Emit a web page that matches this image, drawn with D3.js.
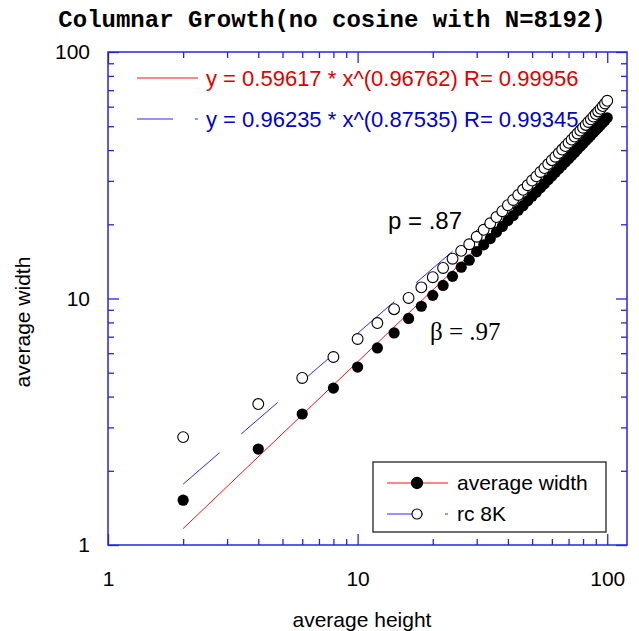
<!DOCTYPE html>
<html>
<head>
<meta charset="utf-8">
<script src="https://cdn.jsdelivr.net/npm/d3@7"></script>
<style>
  body { margin: 0; background: #fff; }
</style>
</head>
<body>
<div id="chart"></div>
<script>
// average height (x) of the sampled columns
const heights = [2, 4, 6, 8, 10, 12, 14, 16, 18, 20, 22, 24, 26, 28, 30, 32, 34, 36, 38, 40,
  42, 44, 46, 48, 50, 52, 54, 56, 58, 60, 62, 64, 66, 68, 70, 72, 74, 76, 78, 80,
  82, 84, 86, 88, 90, 92, 94, 96, 98, 100];
// filled circles
const avgWidth = [1.52, 2.45, 3.40, 4.33, 5.27, 6.3, 7.25, 8.3, 9.3, 10.3, 11.3, 12.3, 13.4, 14.3, 15.5,
  16.5, 17.5, 18.6, 19.6, 20.7, 21.7, 22.8, 23.8, 24.9, 26.0, 27.0, 28.1, 29.2, 30.3, 31.4,
  32.5, 33.6, 34.7, 35.8, 36.9, 38.0, 39.1, 40.3, 41.4, 42.5, 43.7, 44.8, 45.9, 47.1, 48.2,
  49.4, 50.6, 51.8, 52.9, 54.1];
// open circles
const rc8k = [2.74, 3.73, 4.76, 5.79, 6.85, 7.95, 9.05, 10.05, 11.1, 12.2, 13.3, 14.5, 15.6, 16.6, 17.8,
  19.0, 20.2, 21.4, 22.6, 23.9, 25.1, 26.3, 27.6, 28.8, 30.1, 31.3, 32.6, 33.8, 35.1, 36.4,
  37.6, 38.9, 40.2, 41.5, 42.8, 44.1, 45.4, 46.7, 48.0, 49.3, 50.6, 52.0, 53.3, 54.7, 56.0,
  57.4, 58.8, 60.3, 61.8, 63.4];

// power-law fits  y = a * x^b
const fitCoef = [0.59617, 0.96235];
const fitExp = [0.96762, 0.87535];
const fitR = [0.99956, 0.99345];
const fitRange = [2, 100];

const seriesNames = ["average width", "rc 8K"];
const majorTicks = [1, 10, 100];
const minorTicks = [2, 3, 4, 5, 6, 7, 8, 9, 20, 30, 40, 50, 60, 70, 80, 90];

const W = 639, H = 631;
const pL = 108, pR = 627, pT = 52, pB = 545;
const frameColor = "#2424e6";
const redC = "#e00000", blueC = "#0000d0";

const svg = d3.select("#chart").append("svg")
  .attr("width", W)
  .attr("height", H)
  .attr("font-family", "'Liberation Sans', Arial, sans-serif");

const x = d3.scaleLog().domain([1, 120]).range([pL, pR]);
const y = d3.scaleLog().domain([1, 100]).range([pB, pT]);

// title
svg.append("text")
  .attr("x", 332)
  .attr("y", 27)
  .attr("text-anchor", "middle")
  .attr("font-family", "'Liberation Mono', 'Courier New', monospace")
  .attr("font-weight", "bold")
  .attr("font-size", 24)
  .text("Columnar Growth(no cosine with N=8192)");

// ticks, inward on all four sides
function ticks(axisFn, scale, pos, vals, len, labels, pad) {
  const g = svg.append("g")
    .attr("transform", pos)
    .call(axisFn(scale).tickValues(vals).tickSizeInner(-len).tickSizeOuter(0)
      .tickPadding(pad || 0)
      .tickFormat(labels ? d3.format("d") : ""));
  g.select(".domain").remove();
  g.selectAll("line").attr("stroke", frameColor).attr("stroke-width", 1.3);
  g.selectAll("text").attr("font-size", 21).attr("fill", "#000");
  g.attr("font-family", null);
  return g;
}
ticks(d3.axisBottom, x, `translate(0,${pB})`, minorTicks, 6);
ticks(d3.axisBottom, x, `translate(0,${pB})`, majorTicks, 11, true, 26);
ticks(d3.axisTop, x, `translate(0,${pT})`, minorTicks, 6);
ticks(d3.axisTop, x, `translate(0,${pT})`, majorTicks, 11);
ticks(d3.axisLeft, y, `translate(${pL},0)`, minorTicks, 6);
ticks(d3.axisLeft, y, `translate(${pL},0)`, majorTicks, 11, true, 18);
ticks(d3.axisRight, y, `translate(${pR},0)`, minorTicks, 6);
ticks(d3.axisRight, y, `translate(${pR},0)`, majorTicks, 11);

svg.append("rect")
  .attr("x", pL).attr("y", pT)
  .attr("width", pR - pL).attr("height", pB - pT)
  .attr("fill", "none")
  .attr("stroke", frameColor)
  .attr("stroke-width", 1.5);

// axis titles
svg.append("text")
  .attr("x", 362).attr("y", 627)
  .attr("text-anchor", "middle")
  .attr("font-size", 21)
  .text("average height");
svg.append("text")
  .attr("transform", "translate(30,322) rotate(-90)")
  .attr("text-anchor", "middle")
  .attr("font-size", 21)
  .text("average width");

// fit lines
const fitLine = d3.line().x(d => x(d[0])).y(d => y(d[1]));
const fitColors = ["#ff1010", "#2a2aff"];
const fitDash = [null, "48,29"];
fitCoef.forEach((a, i) => {
  const pts = fitRange.map(h => [h, a * Math.pow(h, fitExp[i])]);
  svg.append("path")
    .attr("d", fitLine(pts))
    .attr("fill", "none")
    .attr("stroke", fitColors[i])
    .attr("stroke-width", 1)
    .attr("stroke-dasharray", fitDash[i]);
});

// points
svg.append("g").selectAll("circle")
  .data(heights)
  .join("circle")
  .attr("cx", d => x(d))
  .attr("cy", (d, i) => y(avgWidth[i]))
  .attr("r", 5.6)
  .attr("fill", "#000");

svg.append("g").selectAll("circle")
  .data(heights)
  .join("circle")
  .attr("cx", d => x(d))
  .attr("cy", (d, i) => y(rc8k[i]))
  .attr("r", 5.4)
  .attr("fill", "#fff")
  .attr("stroke", "#000")
  .attr("stroke-width", 1.1);

// equation legend (top left)
const eqColors = [redC, blueC];
const legDash = [null, "36,22"];
fitCoef.forEach((a, i) => {
  const ly = 78 + i * 41;
  svg.append("line")
    .attr("x1", 137).attr("x2", 198)
    .attr("y1", ly).attr("y2", ly)
    .attr("stroke", fitColors[i])
    .attr("stroke-width", 1.2)
    .attr("stroke-dasharray", legDash[i]);
  svg.append("text")
    .attr("x", 206).attr("y", ly + 8)
    .attr("font-size", 22)
    .attr("fill", eqColors[i])
    .text(`y = ${a} * x^(${fitExp[i]}) R= ${fitR[i]}`);
});

// slope annotations
svg.append("text")
  .attr("x", 388).attr("y", 229)
  .attr("font-size", 24)
  .text("p = .87");
svg.append("text")
  .attr("x", 430).attr("y", 340)
  .attr("font-family", "'Liberation Serif', 'Times New Roman', serif")
  .attr("font-size", 25)
  .text("β = .97");

// series legend box (bottom right)
svg.append("rect")
  .attr("x", 373).attr("y", 462)
  .attr("width", 233).attr("height", 70)
  .attr("fill", "#fff")
  .attr("stroke", "#222")
  .attr("stroke-width", 1.3);
seriesNames.forEach((name, i) => {
  const ly = 483 + i * 31;
  svg.append("line")
    .attr("x1", 387).attr("x2", 448)
    .attr("y1", ly).attr("y2", ly)
    .attr("stroke", fitColors[i])
    .attr("stroke-width", 1.2)
    .attr("stroke-dasharray", legDash[i]);
  svg.append("circle")
    .attr("cx", 417).attr("cy", ly)
    .attr("r", i === 0 ? 5.6 : 5)
    .attr("fill", i === 0 ? "#000" : "#fff")
    .attr("stroke", "#000")
    .attr("stroke-width", 1.1);
  svg.append("text")
    .attr("x", 457).attr("y", ly + 7)
    .attr("font-size", 21)
    .text(name);
});
</script>
</body>
</html>
